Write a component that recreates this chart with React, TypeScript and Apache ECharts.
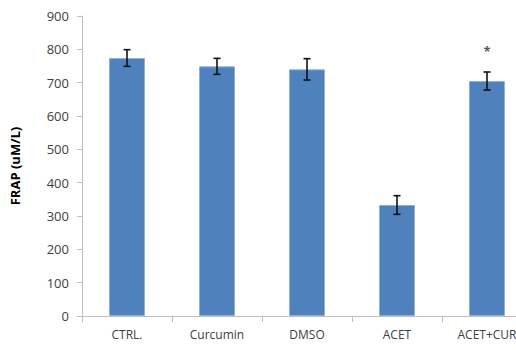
import React, { useEffect, useRef } from "react";
import * as echarts from "echarts";

const categories = ["CTRL.", "Curcumin", "DMSO", "ACET", "ACET+CUR"];
const frapValues = [774, 749, 740, 333, 705];
const frapErrors = [25, 24, 32, 28, 27];
const significance = ["", "", "", "", "*"];
const yTicks = { min: 0, max: 900, interval: 100 };

export default function App() {
  const ref = useRef<HTMLDivElement>(null);

  useEffect(() => {
    if (!ref.current) return;
    const chart = echarts.init(ref.current, null, { renderer: "svg" });

    const errorData = frapValues.map((v, i) => [i, v - frapErrors[i], v + frapErrors[i], i]);

    chart.setOption({
      animation: false,
      backgroundColor: "#ffffff",
      // the plot runs past the right edge of the visible frame, clipping the last label
      grid: { left: 79, top: 16, bottom: 34, right: 8 },
      xAxis: {
        type: "category",
        data: categories,
        axisLine: { lineStyle: { color: "#BFBFBF", width: 1 } },
        axisTick: { show: true, alignWithLabel: false, length: 6, lineStyle: { color: "#BFBFBF" } },
        axisLabel: {
          color: "#404040",
          fontFamily: "Open Sans, sans-serif",
          fontSize: 12,
          margin: 12,
          interval: 0,
        },
      },
      yAxis: {
        type: "value",
        min: yTicks.min,
        max: yTicks.max,
        interval: yTicks.interval,
        name: "FRAP (uM/L)",
        nameLocation: "middle",
        nameGap: 61,
        nameRotate: 90,
        nameTextStyle: {
          color: "#000000",
          fontWeight: "bold",
          fontSize: 13,
          fontFamily: "Open Sans, sans-serif",
        },
        axisLine: { show: true, lineStyle: { color: "#BFBFBF", width: 1 } },
        axisTick: { show: true, length: 5, lineStyle: { color: "#BFBFBF" } },
        splitLine: { show: false },
        axisLabel: {
          color: "#404040",
          fontSize: 13,
          margin: 13,
          fontFamily: "Open Sans, sans-serif",
        },
      },
      series: [
        {
          type: "bar",
          data: frapValues,
          barWidth: 36,
          itemStyle: { color: "#4F81BD", borderColor: "#8EB0DA", borderWidth: 1 },
        },
        {
          type: "custom",
          data: errorData,
          z: 10,
          renderItem: (params: any, api: any) => {
            const idx = api.value(0);
            const lo = api.coord([idx, api.value(1)]);
            const hi = api.coord([idx, api.value(2)]);
            const cap = 3.5;
            const style = { stroke: "#111111", lineWidth: 1.6 };
            const children: any[] = [
              { type: "line", shape: { x1: hi[0], y1: hi[1], x2: lo[0], y2: lo[1] }, style },
              { type: "line", shape: { x1: hi[0] - cap, y1: hi[1], x2: hi[0] + cap, y2: hi[1] }, style },
              { type: "line", shape: { x1: lo[0] - cap, y1: lo[1], x2: lo[0] + cap, y2: lo[1] }, style },
            ];
            const mark = significance[api.value(3)];
            if (mark) {
              children.push({
                type: "text",
                style: {
                  text: mark,
                  x: hi[0],
                  y: hi[1] - 21,
                  align: "center",
                  verticalAlign: "middle",
                  fill: "#595959",
                  font: "bold 13px Open Sans, sans-serif",
                },
              });
            }
            return { type: "group", children };
          },
        },
      ],
    });

    return () => chart.dispose();
  }, []);

  return (
    <div
      style={{
        position: "absolute",
        left: 0,
        top: 0,
        width: 516,
        height: 350,
        overflow: "hidden",
        background: "#ffffff",
      }}
    >
      <div ref={ref} style={{ width: 540, height: 350 }} />
    </div>
  );
}
